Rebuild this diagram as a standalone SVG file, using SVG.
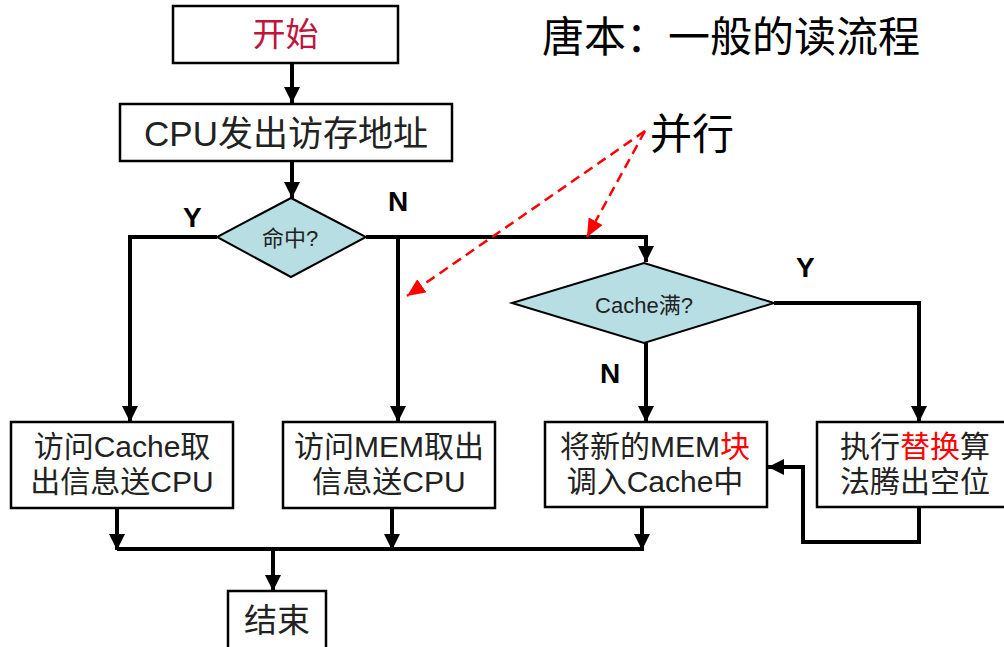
<svg xmlns="http://www.w3.org/2000/svg" width="1004" height="647" viewBox="0 0 1004 647">
<defs>
<style>
.box{fill:#fff;stroke:#000;stroke-width:2.5}
.dia{fill:#B7DEE3;stroke:#000;stroke-width:2}
.t{font-family:"Liberation Sans","Noto Sans CJK SC",sans-serif;fill:#222;text-anchor:middle}
.lbl{font-family:"Liberation Sans",Arial,sans-serif;font-weight:bold;font-size:28px;fill:#000}
.ln{fill:none;stroke:#000;stroke-width:4;stroke-linejoin:miter}
.dash{fill:none;stroke:#FF0000;stroke-width:2.5;stroke-dasharray:10 6}
.red{fill:#FF0000}
</style>
<marker id="ah" markerUnits="userSpaceOnUse" markerWidth="16" markerHeight="16" viewBox="0 0 16 16" refX="16" refY="8" orient="auto">
<path d="M0,0 L16,8 L0,16 Z" fill="#000"/>
</marker>
<marker id="rah" markerUnits="userSpaceOnUse" markerWidth="18" markerHeight="16" viewBox="0 0 18 16" refX="18" refY="8" orient="auto">
<path d="M0,0 L18,8 L0,16 Z" fill="#FF0000"/>
</marker>
</defs>
<rect width="1004" height="647" fill="#fff"/>

<g id="connectors">
<path class="ln" d="M292,63 V103" marker-end="url(#ah)"/>
<path class="ln" d="M292,161 V198" marker-end="url(#ah)"/>
<path class="ln" d="M217,237 H130 V422" marker-end="url(#ah)"/>
<path class="ln" d="M366,237 H646 V262" marker-end="url(#ah)"/>
<path class="ln" d="M398,237 V422" marker-end="url(#ah)"/>
<path class="ln" d="M646,343 V422" marker-end="url(#ah)"/>
<path class="ln" d="M774,303 H919 V422" marker-end="url(#ah)"/>
<path class="ln" d="M919,507 V542 H803 V467 H768" marker-end="url(#ah)"/>
<path class="ln" d="M117,508 V550" marker-end="url(#ah)"/>
<path class="ln" d="M392,508 V550" marker-end="url(#ah)"/>
<path class="ln" d="M642,507 V550" marker-end="url(#ah)"/>
<path class="ln" d="M117,549 H644"/>
<path class="ln" d="M273,549 V591" marker-end="url(#ah)"/>
<path class="dash" d="M645,131 L407,296" marker-end="url(#rah)"/>
<path class="dash" d="M645,131 L587,237" marker-end="url(#rah)"/>
<text class="lbl" x="183" y="227">Y</text>
<text class="lbl" x="388" y="211">N</text>
<text class="lbl" x="796" y="277">Y</text>
<text class="lbl" x="600" y="383">N</text>
</g>

<g id="title">
<text x="542" y="52" style="font-family:'Noto Sans CJK SC',sans-serif;font-size:42px;fill:#000">唐本：一般的读流程</text>
</g>
<g id="parallel">
<text x="650" y="149" style="font-family:'Noto Sans CJK SC',sans-serif;font-size:42px;fill:#000">并行</text>
</g>

<g id="start">
<rect class="box" x="173" y="6" width="225" height="57"/>
<text class="t" x="285.5" y="46" style="font-size:33px;fill:#C0143C">开始</text>
</g>

<g id="cpu">
<rect class="box" x="120" y="104" width="332" height="57"/>
<text class="t" x="286" y="146" style="font-size:35px">CPU发出访存地址</text>
</g>

<g id="hit">
<polygon class="dia" points="291,198 366,237 291,277 217,237"/>
<text class="t" x="290" y="246" style="font-size:22px">命中?</text>
</g>

<g id="full">
<polygon class="dia" points="644,263 774,303 644,343 512,303"/>
<text class="t" x="644" y="313" style="font-size:22px">Cache满?</text>
</g>

<g id="cacheread">
<rect class="box" x="11" y="422" width="222" height="86"/>
<text class="t" x="122" y="457" style="font-size:30px">访问Cache取</text>
<text class="t" x="122" y="492" style="font-size:30px">出信息送CPU</text>
</g>

<g id="memread">
<rect class="box" x="283" y="422" width="212" height="86"/>
<text class="t" x="389" y="457" style="font-size:30px">访问MEM取出</text>
<text class="t" x="389" y="492" style="font-size:30px">信息送CPU</text>
</g>

<g id="load">
<rect class="box" x="545" y="422" width="222" height="85"/>
<text class="t" x="655" y="457" style="font-size:30px">将新的MEM<tspan class="red">块</tspan></text>
<text class="t" x="655" y="492" style="font-size:30px">调入Cache中</text>
</g>

<g id="replace">
<rect class="box" x="817" y="422" width="196" height="85"/>
<text class="t" x="915" y="457" style="font-size:30px">执行<tspan class="red">替换</tspan>算</text>
<text class="t" x="915" y="492" style="font-size:30px">法腾出空位</text>
</g>

<g id="end">
<rect class="box" x="228" y="591" width="98" height="62"/>
<text class="t" x="277" y="632" style="font-size:33px">结束</text>
</g>
</svg>
